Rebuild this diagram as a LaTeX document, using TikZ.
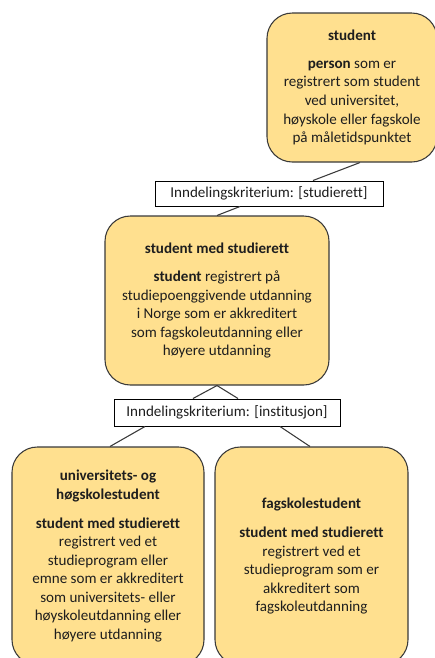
\documentclass[tikz,border=0pt]{standalone}
\usepackage{fontspec}
\setmainfont{Carlito}[Ligatures=NoCommon]
\usetikzlibrary{calc}
\definecolor{boxfill}{HTML}{FFE08F}
\definecolor{boxline}{HTML}{3A3A3A}
\definecolor{txt}{HTML}{1E1E1E}
\begin{document}
\begin{tikzpicture}[x=0.75pt,y=-0.75pt,
  concept/.style={draw=boxline,line width=0.8pt,fill=boxfill,rounded corners=19pt,
    inner sep=0pt,align=center,text=txt,font=\fontsize{11.3}{13.9}\selectfont},
  crit/.style={draw=black,line width=0.75pt,fill=white,inner sep=0pt,
    text=txt,font=\fontsize{11.3}{13.9}\selectfont},
  link/.style={draw=boxline,line width=0.8pt}]
\clip (0,0) rectangle (435,658);
\fill[white] (0,0) rectangle (435,658);
\node[concept,minimum width=127.5pt,minimum height=111.75pt] (top) at (352,87.5)
  {\textbf{student}\\[7pt]\textbf{person} som er\\registrert som student\\ved universitet,\\høyskole eller fagskole\\på måletidspunktet};
\node[crit,minimum width=171pt,minimum height=18.75pt] (k1) at (269,193.5)
  {Inndelingskriterium: [studierett]};
\node[concept,minimum width=168pt,minimum height=126.75pt] (mid) at (217,300.5)
  {\textbf{student med studierett}\\[7.5pt]\textbf{student} registrert på\\studiepoenggivende utdanning\\i Norge som er akkreditert\\som fagskoleutdanning eller\\høyere utdanning};
\node[crit,minimum width=169.5pt,minimum height=20.25pt] (k2) at (227,412.5)
  {Inndelingskriterium: [institusjon]};
\node[concept,minimum width=144pt,minimum height=163.5pt] (uh) at (108,556)
  {\textbf{universitets- og}\\\textbf{høgskolestudent}\\[8pt]\textbf{student med studierett}\\registrert ved et\\studieprogram eller\\emne som er akkreditert\\som universitets- eller\\høyskoleutdanning eller\\høyere utdanning};
\node[concept,minimum width=144.75pt,minimum height=163.5pt] (fs) at (311.5,556)
  {\textbf{fagskolestudent}\\[8pt]\textbf{student med studierett}\\registrert ved et\\studieprogram som er\\akkreditert som\\fagskoleutdanning};
\draw[link] ($(top.south)+(8,0)$) -- ($(k1.north)+(44,0)$);
\draw[link] ($(k1.south)+(-29,0)$) -- (mid.north);
\draw[link] (mid.south) -- ($(k2.north)+(-34,0)$);
\draw[link] (mid.south) -- ($(k2.north)+(11,0)$);
\draw[link] ($(k2.south)+(-82,0)$) -- ($(uh.north)+(2,0)$);
\draw[link] ($(k2.south)+(53,0)$) -- ($(fs.north)+(-1.5,0)$);
\end{tikzpicture}
\end{document}
